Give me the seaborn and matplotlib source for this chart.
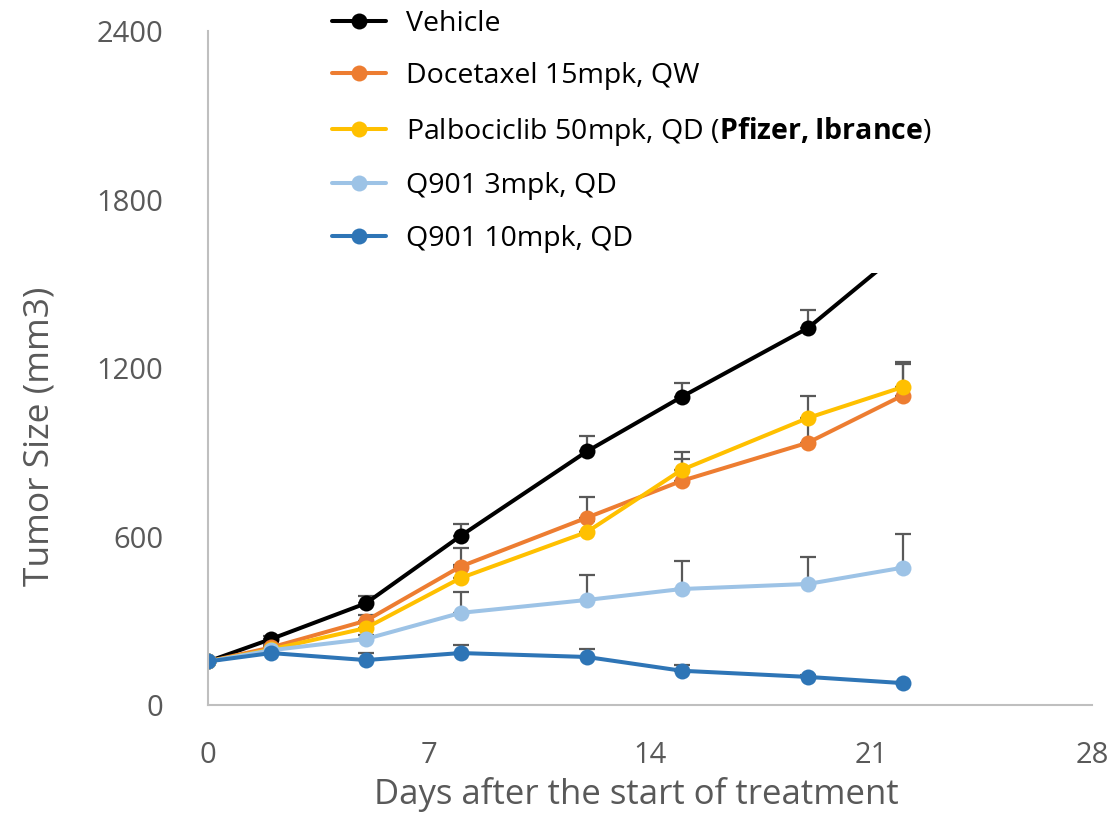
import numpy as np
import pandas as pd
import matplotlib
matplotlib.use("Agg")
import matplotlib.pyplot as plt
import seaborn as sns

days = [0, 2, 5, 8, 12, 15, 19, 22]
groups = ["Vehicle", "Docetaxel 15mpk, QW",
          r"Palbociclib 50mpk, QD ($\mathbf{Pfizer,Ibrance}$)",
          "Q901 3mpk, QD", "Q901 10mpk, QD"]
vehicle = [155, 235, 362, 602, 903, 1097, 1342, 1620]
vehicle_err = [0, 10, 27, 43, 56, 50, 64, 70]
docetaxel = [155, 205, 300, 493, 667, 798, 934, 1102]
docetaxel_err = [0, 8, 20, 65, 74, 78, 85, 114]
palbociclib = [155, 198, 274, 452, 616, 837, 1022, 1132]
palbociclib_err = [0, 8, 20, 45, 40, 64, 78, 89]
q901_3 = [155, 195, 235, 328, 374, 413, 431, 489]
q901_3_err = [0, 8, 15, 74, 89, 101, 96, 120]
q901_10 = [155, 185, 160, 185, 171, 122, 100, 78]
q901_10_err = [0, 8, 26, 29, 28, 20, 8, 5]
colors = ["#000000", "#ED7D31", "#FFC000", "#9DC3E6", "#2E75B6"]
x_ticks = [0, 7, 14, 21, 28]
y_ticks = [0, 600, 1200, 1800, 2400]

series = [vehicle, docetaxel, palbociclib, q901_3, q901_10]
errors = [vehicle_err, docetaxel_err, palbociclib_err, q901_3_err, q901_10_err]

df = pd.DataFrame({
    "day": np.tile(days, len(groups)),
    "size": np.concatenate(series),
    "group": np.repeat(groups, len(days)),
})

sns.set_theme(style="white")
plt.rcParams["font.family"] = ["Open Sans", "DejaVu Sans"]
plt.rcParams["mathtext.fontset"] = "custom"
plt.rcParams["mathtext.rm"] = "Open Sans"
plt.rcParams["mathtext.bf"] = "Open Sans:bold"

fig = plt.figure(figsize=(11.15, 8.13), dpi=100)
ax = fig.add_axes([208/1115, 1 - 705/813, (1092-208)/1115, (705-31)/813])

for vals, err in zip(series, errors):
    ax.errorbar(days, vals, yerr=[np.zeros(len(err)), err], fmt="none",
                ecolor="#595959", elinewidth=1.6, capsize=6, capthick=1.6, zorder=1.5)

sns.lineplot(data=df, x="day", y="size", hue="group", hue_order=groups,
             palette=colors, marker="o", markersize=11.5, markeredgewidth=0,
             linewidth=2.9, ax=ax, zorder=2)

ax.set_xlim(0, 28)
ax.set_ylim(0, 2400)
ax.set_xticks(x_ticks)
ax.set_yticks(y_ticks)
for s in ["top", "right"]:
    ax.spines[s].set_visible(False)
for s in ["left", "bottom"]:
    ax.spines[s].set_color("#BFBFBF")
    ax.spines[s].set_linewidth(1.5)
ax.tick_params(axis="both", length=0, labelsize=21, labelcolor="#595959")
ax.tick_params(axis="y", pad=32)
ax.tick_params(axis="x", pad=26)
ax.set_xlabel("Days after the start of treatment", fontsize=25, color="#595959", labelpad=5)
ax.set_ylabel("Tumor Size (mm3)", fontsize=25.5, color="#595959", labelpad=29)
ax.xaxis.label.set_x((636.5 - 208) / 884)
ax.yaxis.label.set_y((705 - 436) / 674)

handles, labels = ax.get_legend_handles_labels()
leg = ax.legend(handles, labels, loc="upper left",
                bbox_to_anchor=(312/1115, 1 + 10/813), bbox_transform=fig.transFigure,
                fontsize=20.5, frameon=True, facecolor="white", edgecolor="none",
                framealpha=1, handlelength=1.9, handletextpad=0.7,
                labelspacing=0.86, borderpad=0.7, borderaxespad=0,
                fancybox=False, labelcolor="black")
for h in leg.legend_handles:
    h.set_linewidth(2.9)
    h.set_markersize(11.5)
leg.set_zorder(10)

fig.savefig("out.png", dpi=100)
